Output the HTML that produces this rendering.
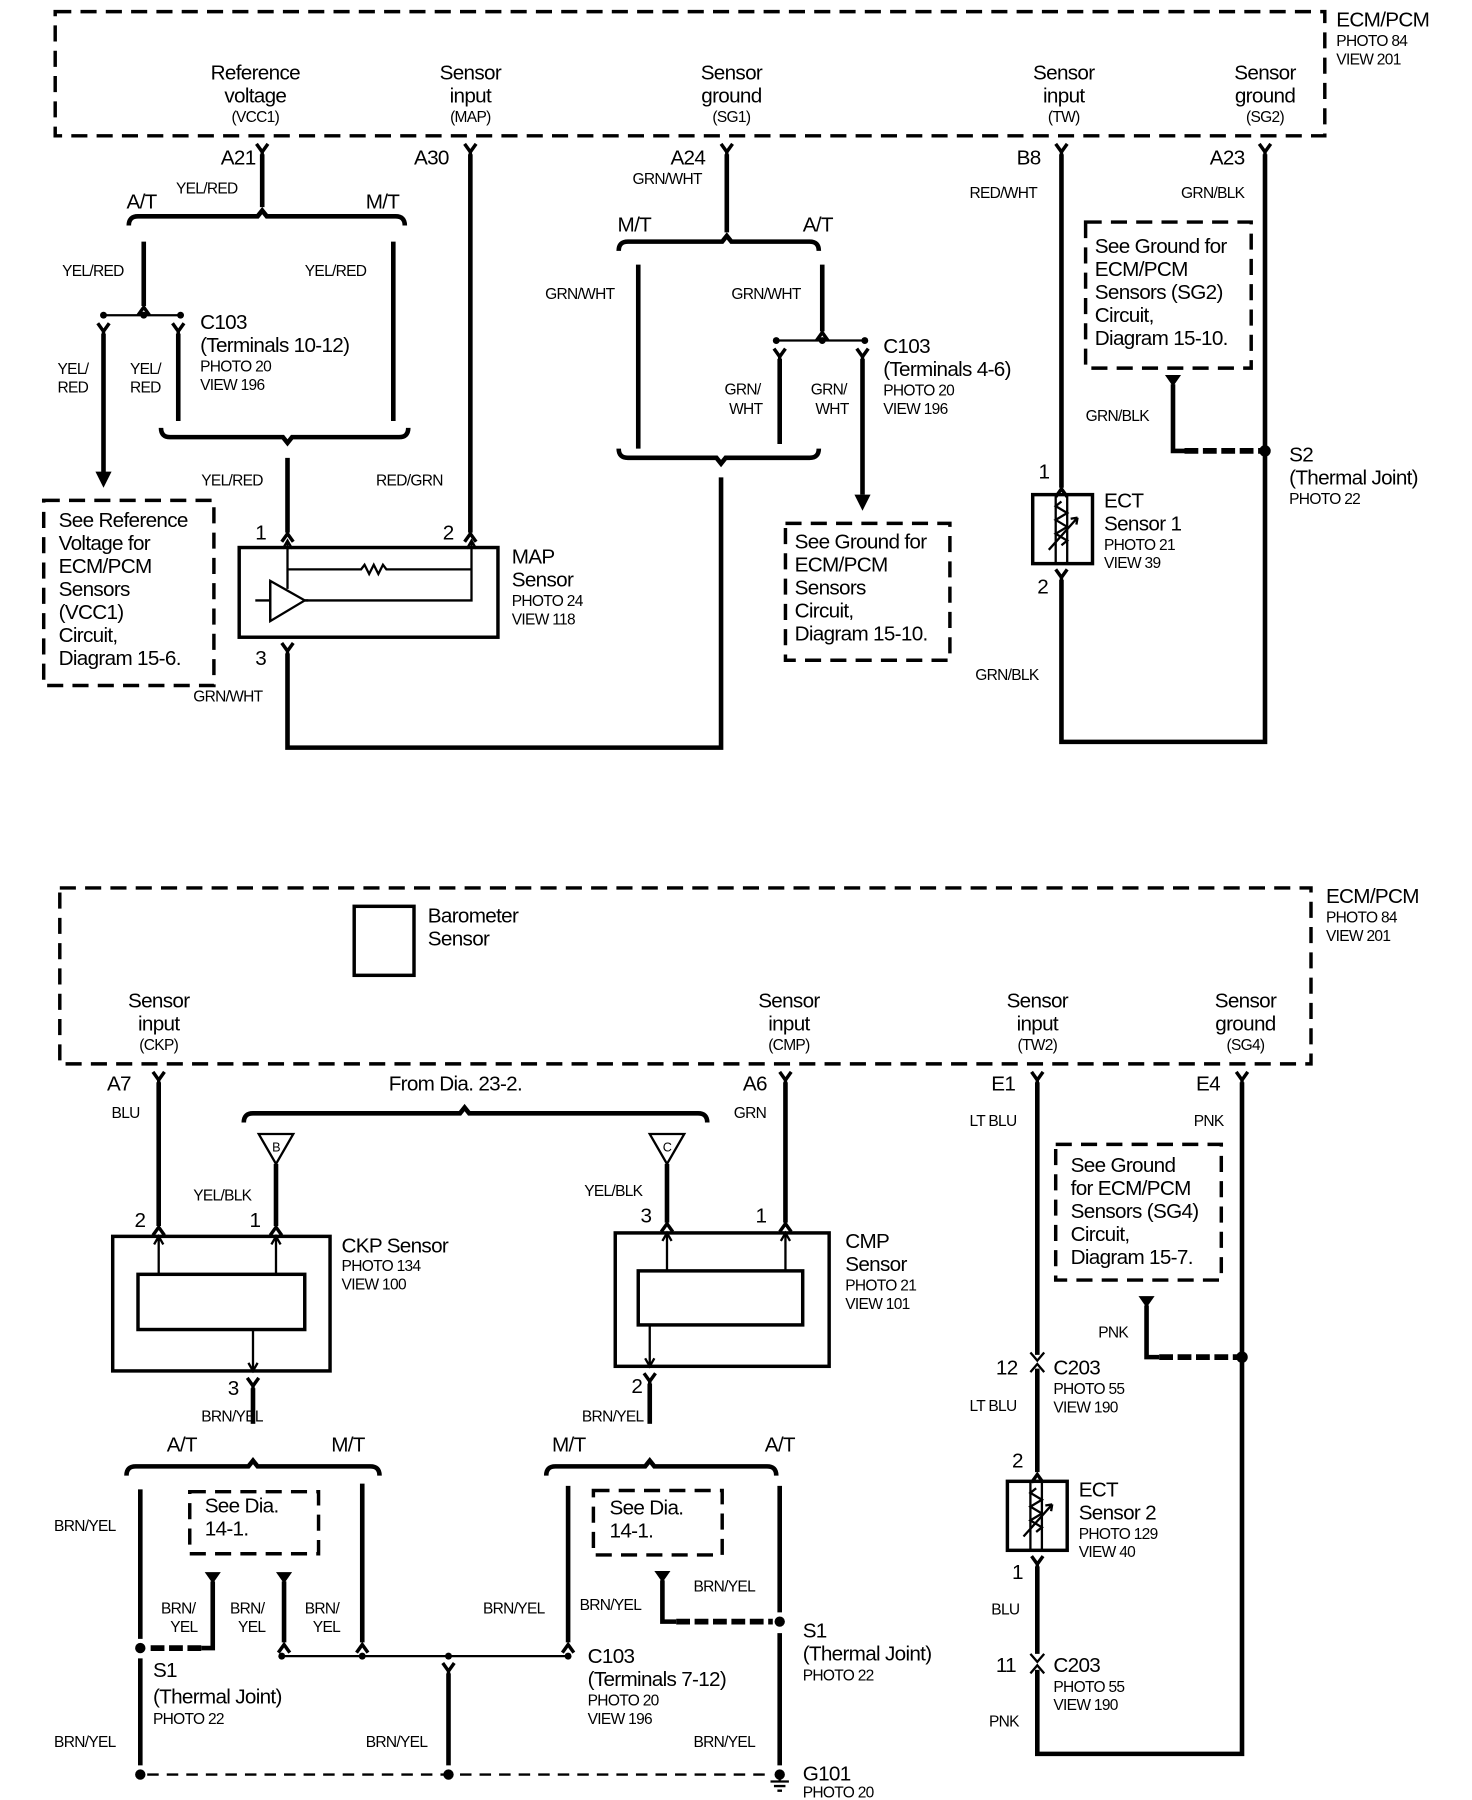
<!DOCTYPE html>
<html><head><meta charset="utf-8"><style>
html,body{margin:0;padding:0;background:#fff}
svg{display:block}
text{font-family:"Liberation Sans",Arial,sans-serif;fill:#000}
.b{font-size:18px;letter-spacing:-0.6px}
.s{font-size:13.5px;letter-spacing:-0.6px}
.w{stroke:#000;stroke-width:4;fill:none}
.t{stroke:#000;stroke-width:2;fill:none}
.d{stroke:#000;stroke-width:3;fill:none;stroke-dasharray:14 8}
.dd{stroke:#000;stroke-width:5;fill:none;stroke-dasharray:12 4}
.bx{stroke:#000;stroke-width:3;fill:none}
.m{text-anchor:middle}
</style></head><body>
<svg width="1472" height="1800" viewBox="0 0 1280 1565" xmlns="http://www.w3.org/2000/svg">
<defs>
<path id="Y" d="M-5,-9 L0,-2 L5,-9 M0,-2 L0,4" stroke="#000" stroke-width="3" fill="none"/>
<path id="F" d="M-5,6 L0,-1 L5,6" stroke="#000" stroke-width="3" fill="none"/>
<path id="T" d="M-7,0 L7,0 L0,10 Z" fill="#000"/>
</defs>

<rect x="48" y="10" width="1104" height="108" class="d"/>
<text class="b" x="1162" y="23">ECM/PCM</text>
<text class="s" x="1162" y="40">PHOTO 84</text>
<text class="s" x="1162" y="56">VIEW 201</text>
<g class="m">
<text class="b" x="222" y="69">Reference</text><text class="b" x="222" y="89">voltage</text><text class="s" x="222" y="106">(VCC1)</text>
<text class="b" x="409" y="69">Sensor</text><text class="b" x="409" y="89">input</text><text class="s" x="409" y="106">(MAP)</text>
<text class="b" x="636" y="69">Sensor</text><text class="b" x="636" y="89">ground</text><text class="s" x="636" y="106">(SG1)</text>
<text class="b" x="925" y="69">Sensor</text><text class="b" x="925" y="89">input</text><text class="s" x="925" y="106">(TW)</text>
<text class="b" x="1100" y="69">Sensor</text><text class="b" x="1100" y="89">ground</text><text class="s" x="1100" y="106">(SG2)</text>
</g>

<use href="#Y" x="228" y="134"/><line x1="228" y1="134" x2="228" y2="180" class="w"/>
<text class="b" x="192" y="143">A21</text><text class="s" x="153" y="168">YEL/RED</text>
<path d="M112,196 Q112,188 120,188 L224,188 L228,183 L232,188 L344,188 Q352,188 352,196" class="w" stroke-width="3"/>
<text class="b" x="110" y="181">A/T</text><text class="b" x="318" y="181">M/T</text>
<line x1="125" y1="210" x2="125" y2="266" class="w"/><use href="#F" x="125" y="268"/>
<text class="s" x="54" y="240">YEL/RED</text>
<line x1="90" y1="274" x2="157" y2="274" class="t"/>
<circle cx="90" cy="274" r="3"/><circle cx="125" cy="274" r="3"/><circle cx="157" cy="274" r="3"/>
<use href="#Y" x="90" y="290"/><use href="#Y" x="155" y="290"/>
<line x1="90" y1="290" x2="90" y2="412" class="w"/><path d="M83,410 L97,410 L90,424 Z"/>
<line x1="155" y1="290" x2="155" y2="366" class="w"/>
<text class="s" x="50" y="325">YEL/</text><text class="s" x="50" y="341">RED</text>
<text class="s" x="113" y="325">YEL/</text><text class="s" x="113" y="341">RED</text>
<text class="b" x="174" y="286">C103</text><text class="b" x="174" y="306">(Terminals 10-12)</text>
<text class="s" x="174" y="323">PHOTO 20</text><text class="s" x="174" y="339">VIEW 196</text>
<line x1="342" y1="210" x2="342" y2="366" class="w"/><text class="s" x="265" y="240">YEL/RED</text>
<path d="M140,372 Q140,380 148,380 L246,380 L250,385 L254,380 L347,380 Q355,380 355,372" class="w" stroke-width="3"/>
<line x1="250" y1="398" x2="250" y2="463" class="w"/><use href="#F" x="250" y="465"/>
<text class="s" x="175" y="422">YEL/RED</text><text class="b" x="222" y="469">1</text>
<use href="#Y" x="409" y="134"/><line x1="409" y1="134" x2="409" y2="463" class="w"/><use href="#F" x="409" y="465"/>
<text class="b" x="360" y="143">A30</text><text class="s" x="327" y="422">RED/GRN</text><text class="b" x="385" y="469">2</text>
<rect x="208" y="476" width="225" height="78" class="bx"/>
<path d="M250,470 V512 M250,495 H314 l3,-4 l4,8 l4,-8 l4,8 l4,-8 l3,4 H410 V522 H265 M410,470 V495" class="t" stroke-width="1.5"/>
<path d="M246,477 L250,470 L254,477 M406,477 L410,470 L414,477" class="t" stroke-width="1.5"/>
<path d="M235,505 L265,522 L235,540 Z M222,522 H235 M265,522 H268" class="t"/>
<line x1="235" y1="505" x2="235" y2="540" class="t"/>
<text class="b" x="445" y="490">MAP</text><text class="b" x="445" y="510">Sensor</text>
<text class="s" x="445" y="527">PHOTO 24</text><text class="s" x="445" y="543">VIEW 118</text>
<use href="#Y" x="250" y="568"/><text class="b" x="222" y="578">3</text>
<path d="M250,568 V650 H627 V415" class="w"/>
<text class="s" x="168" y="610">GRN/WHT</text>
<rect x="38" y="435" width="148" height="161" class="d" stroke-width="2"/>
<g class="b"><text x="51" y="458">See Reference</text><text x="51" y="478">Voltage for</text><text x="51" y="498">ECM/PCM</text><text x="51" y="518">Sensors</text><text x="51" y="538">(VCC1)</text><text x="51" y="558">Circuit,</text><text x="51" y="578">Diagram 15-6.</text></g>

<use href="#Y" x="632" y="134"/><line x1="632" y1="134" x2="632" y2="202" class="w"/>
<text class="b" x="583" y="143">A24</text><text class="s" x="550" y="160">GRN/WHT</text>
<path d="M538,218 Q538,210 546,210 L628,210 L632,205 L636,210 L704,210 Q712,210 712,218" class="w" stroke-width="3"/>
<text class="b" x="537" y="201">M/T</text><text class="b" x="698" y="201">A/T</text>
<line x1="555" y1="230" x2="555" y2="390" class="w"/><text class="s" x="474" y="260">GRN/WHT</text>
<line x1="715" y1="230" x2="715" y2="288" class="w"/><use href="#F" x="715" y="290"/><text class="s" x="636" y="260">GRN/WHT</text>
<line x1="675" y1="296" x2="752" y2="296" class="t"/>
<circle cx="675" cy="296" r="3"/><circle cx="715" cy="296" r="3"/><circle cx="752" cy="296" r="3"/>
<use href="#Y" x="678" y="312"/><use href="#Y" x="750" y="312"/>
<line x1="678" y1="312" x2="678" y2="386" class="w"/>
<line x1="750" y1="312" x2="750" y2="430" class="w"/><path d="M743,430 L757,430 L750,444 Z"/>
<text class="s" x="630" y="343">GRN/</text><text class="s" x="634" y="360">WHT</text>
<text class="s" x="705" y="343">GRN/</text><text class="s" x="709" y="360">WHT</text>
<text class="b" x="768" y="307">C103</text><text class="b" x="768" y="327">(Terminals 4-6)</text>
<text class="s" x="768" y="344">PHOTO 20</text><text class="s" x="768" y="360">VIEW 196</text>
<path d="M538,390 Q538,398 546,398 L623,398 L627,403 L631,398 L704,398 Q712,398 712,390" class="w" stroke-width="3"/>
<rect x="683" y="455" width="143" height="119" class="d" stroke-width="2"/>
<g class="b"><text x="691" y="477">See Ground for</text><text x="691" y="497">ECM/PCM</text><text x="691" y="517">Sensors</text><text x="691" y="537">Circuit,</text><text x="691" y="557">Diagram 15-10.</text></g>

<use href="#Y" x="923" y="134"/><line x1="923" y1="134" x2="923" y2="424" class="w"/><use href="#F" x="923" y="426"/>
<text class="b" x="884" y="143">B8</text><text class="s" x="843" y="172">RED/WHT</text><text class="b" x="903" y="416">1</text>
<rect x="898" y="430" width="52" height="60" class="bx"/>
<path d="M918,430 V490 M928,430 V490" class="t" stroke-width="1"/>
<path d="M923,436 l-5,4 l10,6 l-10,6 l10,6 l-10,6 l10,6 l-5,4" class="t" stroke-width="1.5"/>
<path d="M912,478 L937,450 M937,450 l-6,1 M937,450 l-1,6" class="t" stroke-width="1.5"/>
<text class="b" x="960" y="441">ECT</text><text class="b" x="960" y="461">Sensor 1</text>
<text class="s" x="960" y="478">PHOTO 21</text><text class="s" x="960" y="494">VIEW 39</text>
<use href="#Y" x="923" y="504"/><text class="b" x="902" y="516">2</text>
<path d="M923,504 V645 H1100 V134" class="w"/><use href="#Y" x="1100" y="134"/>
<text class="s" x="848" y="591">GRN/BLK</text>
<text class="b" x="1052" y="143">A23</text><text class="s" x="1027" y="172">GRN/BLK</text>
<circle cx="1100" cy="392" r="5"/>
<text class="b" x="1121" y="401">S2</text><text class="b" x="1121" y="421">(Thermal Joint)</text><text class="s" x="1121" y="438">PHOTO 22</text>
<rect x="944" y="193" width="144" height="127" class="d" stroke-width="2"/>
<g class="b"><text x="952" y="220">See Ground for</text><text x="952" y="240">ECM/PCM</text><text x="952" y="260">Sensors (SG2)</text><text x="952" y="280">Circuit,</text><text x="952" y="300">Diagram 15-10.</text></g>
<use href="#T" x="1020" y="326"/><path d="M1020,334 V392 H1030" class="w"/><line x1="1030" y1="392" x2="1098" y2="392" class="dd"/>
<text class="s" x="944" y="366">GRN/BLK</text>

<rect x="52" y="772" width="1088" height="153" class="d"/>
<text class="b" x="1153" y="785">ECM/PCM</text><text class="s" x="1153" y="802">PHOTO 84</text><text class="s" x="1153" y="818">VIEW 201</text>
<rect x="308" y="788" width="52" height="60" class="bx" stroke-width="2"/>
<text class="b" x="372" y="802">Barometer</text><text class="b" x="372" y="822">Sensor</text>
<g class="m">
<text class="b" x="138" y="876">Sensor</text><text class="b" x="138" y="896">input</text><text class="s" x="138" y="913">(CKP)</text>
<text class="b" x="686" y="876">Sensor</text><text class="b" x="686" y="896">input</text><text class="s" x="686" y="913">(CMP)</text>
<text class="b" x="902" y="876">Sensor</text><text class="b" x="902" y="896">input</text><text class="s" x="902" y="913">(TW2)</text>
<text class="b" x="1083" y="876">Sensor</text><text class="b" x="1083" y="896">ground</text><text class="s" x="1083" y="913">(SG4)</text>
</g>

<use href="#Y" x="138" y="941"/><line x1="138" y1="941" x2="138" y2="1066" class="w"/><use href="#F" x="138" y="1068"/>
<text class="b" x="93" y="948">A7</text><text class="s" x="97" y="972">BLU</text><text class="b" x="117" y="1067">2</text>
<text class="b" x="338" y="948">From Dia. 23-2.</text>
<path d="M212,976 Q212,968 220,968 L400,968 L404,963 L408,968 L607,968 Q615,968 615,976" class="w" stroke-width="3"/>
<path d="M225,986 L255,986 L240,1012 Z M565,986 L595,986 L580,1012 Z" class="t"/>
<text class="s m" x="240" y="1001" style="font-size:11px">B</text><text class="s m" x="580" y="1001" style="font-size:11px">C</text>
<line x1="240" y1="1012" x2="240" y2="1066" class="w"/><use href="#F" x="240" y="1068"/>
<text class="b" x="217" y="1067">1</text><text class="s" x="168" y="1044">YEL/BLK</text>
<line x1="580" y1="1012" x2="580" y2="1063" class="w"/><use href="#F" x="580" y="1065"/>
<text class="b" x="557" y="1063">3</text><text class="s" x="508" y="1040">YEL/BLK</text>
<use href="#Y" x="683" y="941"/><line x1="683" y1="941" x2="683" y2="1063" class="w"/><use href="#F" x="683" y="1065"/>
<text class="b" x="646" y="948">A6</text><text class="s" x="638" y="972">GRN</text><text class="b" x="657" y="1063">1</text>
<rect x="98" y="1075" width="189" height="117" class="bx"/>
<rect x="120" y="1108" width="145" height="48" class="bx" stroke-width="2"/>
<path d="M138,1075 V1108 M240,1075 V1108 M220,1156 V1192 M134,1082 L138,1075 L142,1082 M236,1082 L240,1075 L244,1082 M216,1185 L220,1192 L224,1185" class="t" stroke-width="1.2"/>
<text class="b" x="297" y="1089">CKP Sensor</text><text class="s" x="297" y="1105">PHOTO 134</text><text class="s" x="297" y="1121">VIEW 100</text>
<use href="#Y" x="220" y="1207"/><text class="b" x="198" y="1213">3</text>
<line x1="220" y1="1207" x2="220" y2="1238" class="w"/><text class="s" x="175" y="1236">BRN/YEL</text>
<rect x="535" y="1072" width="186" height="116" class="bx"/>
<rect x="555" y="1105" width="143" height="47" class="bx" stroke-width="2"/>
<path d="M580,1072 V1105 M683,1072 V1105 M565,1152 V1188 M576,1079 L580,1072 L584,1079 M679,1079 L683,1072 L687,1079 M561,1181 L565,1188 L569,1181" class="t" stroke-width="1.2"/>
<text class="b" x="735" y="1085">CMP</text><text class="b" x="735" y="1105">Sensor</text><text class="s" x="735" y="1122">PHOTO 21</text><text class="s" x="735" y="1138">VIEW 101</text>
<use href="#Y" x="565" y="1203"/><text class="b" x="549" y="1211">2</text>
<line x1="565" y1="1203" x2="565" y2="1238" class="w"/><text class="s" x="506" y="1236">BRN/YEL</text>
<path d="M110,1283 Q110,1275 118,1275 L216,1275 L220,1270 L224,1275 L322,1275 Q330,1275 330,1283" class="w" stroke-width="3"/>
<text class="b" x="145" y="1262">A/T</text><text class="b" x="288" y="1262">M/T</text>
<path d="M475,1283 Q475,1275 483,1275 L561,1275 L565,1270 L569,1275 L667,1275 Q675,1275 675,1283" class="w" stroke-width="3"/>
<text class="b" x="480" y="1262">M/T</text><text class="b" x="665" y="1262">A/T</text>
<line x1="122" y1="1295" x2="122" y2="1425" class="w"/><circle cx="122" cy="1433" r="4.5"/>
<line x1="122" y1="1442" x2="122" y2="1535" class="w"/><circle cx="122" cy="1543" r="4.5"/>
<text class="s" x="47" y="1331">BRN/YEL</text><text class="s" x="47" y="1519">BRN/YEL</text>
<rect x="165" y="1297" width="112" height="54" class="d" stroke-width="2"/>
<text class="b" x="178" y="1315">See Dia.</text><text class="b" x="178" y="1335">14-1.</text>
<use href="#T" x="185" y="1367"/><use href="#T" x="247" y="1367"/>
<path d="M185,1375 V1433 H175" class="w"/><line x1="175" y1="1433" x2="127" y2="1433" class="dd"/>
<line x1="247" y1="1375" x2="247" y2="1428" class="w"/><use href="#F" x="247" y="1431"/>
<line x1="315" y1="1290" x2="315" y2="1428" class="w"/><use href="#F" x="315" y="1431"/>
<text class="s" x="140" y="1403">BRN/</text><text class="s" x="148" y="1419">YEL</text>
<text class="s" x="200" y="1403">BRN/</text><text class="s" x="207" y="1419">YEL</text>
<text class="s" x="265" y="1403">BRN/</text><text class="s" x="272" y="1419">YEL</text>
<line x1="245" y1="1440" x2="494" y2="1440" class="t"/>
<circle cx="245" cy="1440" r="3"/><circle cx="315" cy="1440" r="3"/><circle cx="390" cy="1440" r="3"/><circle cx="494" cy="1440" r="3"/>
<use href="#Y" x="390" y="1455"/><line x1="390" y1="1455" x2="390" y2="1535" class="w"/><circle cx="390" cy="1543" r="4.5"/>
<text class="s" x="318" y="1519">BRN/YEL</text>
<text class="b" x="133" y="1458">S1</text><text class="b" x="133" y="1481">(Thermal Joint)</text><text class="s" x="133" y="1499">PHOTO 22</text>
<line x1="494" y1="1292" x2="494" y2="1428" class="w"/><use href="#F" x="494" y="1431"/>
<text class="s" x="420" y="1403">BRN/YEL</text>
<rect x="516" y="1296" width="112" height="56" class="d" stroke-width="2"/>
<text class="b" x="530" y="1317">See Dia.</text><text class="b" x="530" y="1337">14-1.</text>
<use href="#T" x="576" y="1366"/><path d="M576,1374 V1410 H588" class="w"/><line x1="588" y1="1410" x2="672" y2="1410" class="dd"/>
<text class="s" x="504" y="1400">BRN/YEL</text>
<line x1="678" y1="1292" x2="678" y2="1402" class="w"/><circle cx="678" cy="1410" r="4.5"/>
<line x1="678" y1="1420" x2="678" y2="1535" class="w"/><text class="s" x="603" y="1384">BRN/YEL</text><text class="s" x="603" y="1519">BRN/YEL</text>
<circle cx="678" cy="1543" r="4.5"/><path d="M670,1549 H686 M673,1553 H683 M676,1557 H680" class="t"/>
<line x1="678" y1="1543" x2="678" y2="1549" class="t"/>
<text class="b" x="698" y="1548">G101</text><text class="s" x="698" y="1563">PHOTO 20</text>
<text class="b" x="511" y="1446">C103</text><text class="b" x="511" y="1466">(Terminals 7-12)</text><text class="s" x="511" y="1483">PHOTO 20</text><text class="s" x="511" y="1499">VIEW 196</text>
<text class="b" x="698" y="1424">S1</text><text class="b" x="698" y="1444">(Thermal Joint)</text><text class="s" x="698" y="1461">PHOTO 22</text>
<line x1="128" y1="1543" x2="672" y2="1543" class="t" stroke-dasharray="10 7"/>

<use href="#Y" x="902" y="941"/><line x1="902" y1="941" x2="902" y2="1178" class="w"/>
<path d="M896,1176 L902,1183 L908,1176 M896,1193 L902,1186 L908,1193" class="t" stroke-width="2.5"/>
<line x1="902" y1="1190" x2="902" y2="1280" class="w"/><use href="#F" x="902" y="1283"/>
<text class="b" x="862" y="948">E1</text><text class="s" x="843" y="979">LT BLU</text>
<text class="b" x="866" y="1195">12</text><text class="b" x="916" y="1195">C203</text><text class="s" x="916" y="1212">PHOTO 55</text><text class="s" x="916" y="1228">VIEW 190</text>
<text class="s" x="843" y="1227">LT BLU</text><text class="b" x="880" y="1276">2</text>
<rect x="876" y="1288" width="52" height="60" class="bx"/>
<path d="M896,1288 V1348 M906,1288 V1348" class="t" stroke-width="1"/>
<path d="M901,1294 l-5,4 l10,6 l-10,6 l10,6 l-10,6 l10,6 l-5,4" class="t" stroke-width="1.5"/>
<path d="M890,1336 L915,1308 M915,1308 l-6,1 M915,1308 l-1,6" class="t" stroke-width="1.5"/>
<text class="b" x="938" y="1301">ECT</text><text class="b" x="938" y="1321">Sensor 2</text><text class="s" x="938" y="1338">PHOTO 129</text><text class="s" x="938" y="1354">VIEW 40</text>
<use href="#Y" x="902" y="1362"/><text class="b" x="880" y="1373">1</text>
<line x1="902" y1="1362" x2="902" y2="1438" class="w"/>
<path d="M896,1438 L902,1445 L908,1438 M896,1455 L902,1448 L908,1455" class="t" stroke-width="2.5"/>
<text class="s" x="862" y="1404">BLU</text>
<text class="b" x="866" y="1454">11</text><text class="b" x="916" y="1454">C203</text><text class="s" x="916" y="1471">PHOTO 55</text><text class="s" x="916" y="1487">VIEW 190</text>
<text class="s" x="860" y="1501">PNK</text>
<path d="M902,1452 V1525 H1080 V941" class="w"/><use href="#Y" x="1080" y="941"/>
<text class="b" x="1040" y="948">E4</text><text class="s" x="1038" y="979">PNK</text>
<circle cx="1080" cy="1180" r="5"/>
<rect x="918" y="995" width="144" height="118" class="d" stroke-width="2"/>
<g class="b"><text x="931" y="1019">See Ground</text><text x="931" y="1039">for ECM/PCM</text><text x="931" y="1059">Sensors (SG4)</text><text x="931" y="1079">Circuit,</text><text x="931" y="1099">Diagram 15-7.</text></g>
<use href="#T" x="997" y="1127"/><path d="M997,1135 V1180 H1008" class="w"/><line x1="1008" y1="1180" x2="1076" y2="1180" class="dd"/>
<text class="s" x="955" y="1163">PNK</text>
</svg>
</body></html>
